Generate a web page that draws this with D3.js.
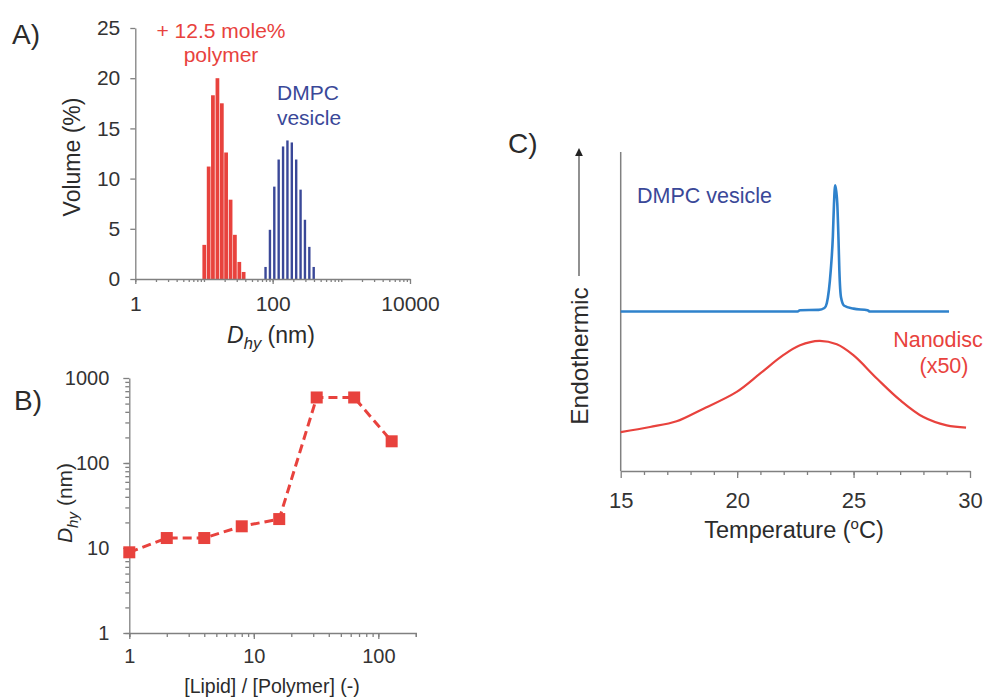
<!DOCTYPE html>
<html>
<head>
<meta charset="utf-8">
<script src="https://cdn.jsdelivr.net/npm/d3@7"></script>
<style>
  body { margin: 0; background: #fff; }
  svg { font-family: "Liberation Sans", Arial, sans-serif; }
  .axis path, .axis line { stroke: #808080; stroke-width: 1.3; }
  .axis text { fill: #333; font-family: "Liberation Sans", Arial, sans-serif; }
</style>
</head>
<body>
<div id="chart"></div>
<script>
//panel A: DLS volume distributions
var sizeRed = [10.1, 11.7, 13.5, 15.7, 18.2, 21.0, 24.4, 28.2, 32.7, 37.8];
var volRed = [3.4, 11.2, 18.3, 20.0, 17.5, 12.6, 7.9, 4.4, 1.7, 0.7];
var sizeBlue = [78.8, 91.3, 105.7, 122.4, 141.8, 164.2, 190.1, 220.2, 255.0, 295.3, 342.0, 396.1];
var volBlue = [1.2, 4.9, 9.2, 11.9, 13.2, 13.8, 13.6, 11.9, 8.9, 5.9, 3.2, 1.2];
var ticksA_y = [0, 5, 10, 15, 20, 25];
var ticksA_x = [1, 100, 10000];

//panel B: Dhy vs lipid/polymer ratio
var ratioLP = [1, 2, 4, 8, 16, 32, 64, 128];
var dhyB = [8.9, 13.1, 13.1, 18.0, 21.9, 590, 590, 180];
var ticksB_y = [1, 10, 100, 1000];
var ticksB_x = [1, 10, 100];

//panel C: DSC thermograms
var tempVesicle = [15, 22.6, 22.7, 23.5, 23.75, 23.85, 24.02, 24.11, 24.16, 24.21, 24.26, 24.30, 24.35, 24.39, 24.46, 24.6, 25.0, 25.6, 25.7, 29.1];
var heatVesicle = [50, 50, 50.4, 50.5, 51.1, 52.6, 62.9, 73.4, 83.9, 89.6, 87.5, 83.9, 73.4, 62.9, 54.5, 51.8, 50.9, 50.4, 50, 50];
var tempNano = [15, 16.26, 17.4, 18.4, 19.98, 20.98, 21.98, 22.7, 23.53, 24.28, 24.99, 26.0, 27.0, 28.0, 29.0, 29.83];
var heatNano = [12.2, 13.8, 15.6, 19.0, 24.8, 30.5, 36.3, 39.4, 40.8, 39.7, 36.3, 29.0, 22.2, 16.9, 14.3, 13.6];
var ticksC_x = [15, 20, 25, 30];

var red = "#e8423d";
var navy = "#3a4898";
var skyblue = "#2f82cc";
var txt = "#2b2b2b";

var svg = d3.select("#chart").append("svg")
            .attr("width", 986)
            .attr("height", 700);

svg.append("rect").attr("width", 986).attr("height", 700).attr("fill", "#fff");

//minor log ticks between decades
function logMinor(lo, hi) {
  var out = [];
  for (var d = lo; d < hi; d *= 10) {
    for (var k = 1; k < 10; k++) {
      if (d * k <= hi) out.push(d * k);
    }
  }
  return out;
}

function panelLetter(x, y, s) {
  svg.append("text")
     .attr("x", x).attr("y", y)
     .attr("font-size", 28)
     .attr("fill", txt)
     .text(s);
}

function dhyLabel(g, size) {
  g.append("tspan").attr("font-style", "italic").text("D");
  g.append("tspan").attr("font-style", "italic").attr("font-size", size * 0.72).attr("dy", size * 0.28).text("hy");
  g.append("tspan").attr("dy", -size * 0.28).text(" (nm)");
}

/* ---------------- A ---------------- */
function drawA() {
  var x = d3.scaleLog().domain([1, 10000]).range([135.3, 410]);
  var y = d3.scaleLinear().domain([0, 25]).range([279, 28]);
  var g = svg.append("g");

  //bars, width from the log bin width
  var ratio = 1.157;
  function bars(sizes, vals, color, frac) {
    g.selectAll(null)
     .data(sizes.map(function(d, i) { return {d: d, v: vals[i]}; }))
     .enter().append("rect")
     .attr("x", function(d) {
        var w = x(d.d * Math.sqrt(ratio)) - x(d.d / Math.sqrt(ratio));
        return x(d.d) - w * frac / 2;
     })
     .attr("width", function(d) {
        return (x(d.d * Math.sqrt(ratio)) - x(d.d / Math.sqrt(ratio))) * frac;
     })
     .attr("y", function(d) { return y(d.v); })
     .attr("height", function(d) { return y(0) - y(d.v); })
     .attr("fill", color);
  }
  bars(sizeRed, volRed, red, 0.86);
  bars(sizeBlue, volBlue, navy, 0.55);

  g.append("g").attr("class", "axis")
   .attr("transform", "translate(0,279)")
   .call(d3.axisBottom(x).tickValues(logMinor(1, 10000)).tickSize(3).tickFormat(""))
   .call(function(a) { a.select(".domain").remove(); });
  g.append("g").attr("class", "axis")
   .attr("transform", "translate(0,279)")
   .call(d3.axisBottom(x).tickValues(ticksA_x).tickSize(5).tickSizeOuter(0).tickPadding(12).tickFormat(d3.format("d")))
   .selectAll("text").attr("font-size", 21);

  g.append("g").attr("class", "axis")
   .attr("transform", "translate(135.3,0)")
   .call(d3.axisLeft(y).tickValues(ticksA_y).tickSize(5).tickSizeOuter(0).tickPadding(10))
   .selectAll("text").attr("font-size", 21);

  svg.append("text")
     .attr("transform", "translate(80,157) rotate(-90)")
     .attr("text-anchor", "middle")
     .attr("font-size", 23)
     .attr("fill", txt)
     .text("Volume (%)");

  var xl = svg.append("text")
     .attr("x", 271).attr("y", 343)
     .attr("text-anchor", "middle")
     .attr("font-size", 23)
     .attr("fill", txt);
  dhyLabel(xl, 23);

  svg.append("text").attr("x", 221).attr("y", 38).attr("text-anchor", "middle")
     .attr("font-size", 21).attr("fill", red).text("+ 12.5 mole%");
  svg.append("text").attr("x", 221).attr("y", 62).attr("text-anchor", "middle")
     .attr("font-size", 21).attr("fill", red).text("polymer");
  svg.append("text").attr("x", 308).attr("y", 100).attr("text-anchor", "middle")
     .attr("font-size", 21).attr("fill", navy).text("DMPC");
  svg.append("text").attr("x", 309).attr("y", 125).attr("text-anchor", "middle")
     .attr("font-size", 21).attr("fill", navy).text("vesicle");

  panelLetter(12, 44, "A)");
}

/* ---------------- B ---------------- */
function drawB() {
  var x = d3.scaleLog().domain([1, 200]).range([129.3, 415.8]);
  var y = d3.scaleLog().domain([1, 1000]).range([633, 378]);
  var g = svg.append("g");

  g.append("g").attr("class", "axis")
   .attr("transform", "translate(0,633)")
   .call(d3.axisBottom(x).tickValues(logMinor(1, 200)).tickSize(4).tickFormat(""))
   .call(function(a) { a.select(".domain").remove(); });
  g.append("g").attr("class", "axis")
   .attr("transform", "translate(0,633)")
   .call(d3.axisBottom(x).tickValues(ticksB_x).tickSize(6).tickSizeOuter(4).tickPadding(10).tickFormat(d3.format("d")))
   .selectAll("text").attr("font-size", 20);

  g.append("g").attr("class", "axis")
   .attr("transform", "translate(129.3,0)")
   .call(d3.axisLeft(y).tickValues(logMinor(1, 1000)).tickSize(4).tickFormat(""))
   .call(function(a) { a.select(".domain").remove(); });
  g.append("g").attr("class", "axis")
   .attr("transform", "translate(129.3,0)")
   .call(d3.axisLeft(y).tickValues(ticksB_y).tickSize(6).tickSizeOuter(0).tickPadding(14).tickFormat(d3.format("d")))
   .selectAll("text").attr("font-size", 20);

  var pts = ratioLP.map(function(r, i) { return [r, dhyB[i]]; });
  g.append("path")
   .datum(pts)
   .attr("fill", "none")
   .attr("stroke", red)
   .attr("stroke-width", 3)
   .attr("stroke-dasharray", "9,5")
   .attr("d", d3.line().x(function(d) { return x(d[0]); }).y(function(d) { return y(d[1]); }));

  g.selectAll(null)
   .data(pts)
   .enter().append("rect")
   .attr("x", function(d) { return x(d[0]) - 6; })
   .attr("y", function(d) { return y(d[1]) - 6; })
   .attr("width", 12).attr("height", 12)
   .attr("fill", red);

  var yl = svg.append("text")
     .attr("transform", "translate(72,503) rotate(-90)")
     .attr("text-anchor", "middle")
     .attr("font-size", 21)
     .attr("fill", txt);
  dhyLabel(yl, 21);

  svg.append("text")
     .attr("x", 272).attr("y", 693)
     .attr("text-anchor", "middle")
     .attr("font-size", 19.5)
     .attr("fill", txt)
     .text("[Lipid] / [Polymer] (-)");

  panelLetter(14, 410, "B)");
}

/* ---------------- C ---------------- */
function drawC() {
  var x = d3.scaleLinear().domain([15, 30]).range([620.7, 970]);
  var y = d3.scaleLinear().domain([0, 100]).range([471, 152]);
  var g = svg.append("g");

  g.append("g").attr("class", "axis")
   .attr("transform", "translate(0,471)")
   .call(d3.axisBottom(x).tickValues(d3.range(16, 30)).tickSize(4).tickFormat(""))
   .call(function(a) { a.select(".domain").remove(); });
  g.append("g").attr("class", "axis")
   .attr("transform", "translate(0,471)")
   .call(d3.axisBottom(x).tickValues(ticksC_x).tickSize(7).tickSizeOuter(0).tickPadding(14))
   .selectAll("text").attr("font-size", 22);

  g.append("line")
   .attr("x1", x(15)).attr("x2", x(15))
   .attr("y1", y(100)).attr("y2", y(0))
   .attr("stroke", "#808080").attr("stroke-width", 1.5);

  // smooth broad peak, sharp transition peak
  var nanoLine = d3.line()
               .x(function(d) { return x(d[0]); })
               .y(function(d) { return y(d[1]); })
               .curve(d3.curveCatmullRom);
  var vesLine = d3.line()
               .x(function(d) { return x(d[0]); })
               .y(function(d) { return y(d[1]); })
               .curve(d3.curveMonotoneX);

  g.append("path")
   .datum(tempNano.map(function(t, i) { return [t, heatNano[i]]; }))
   .attr("fill", "none").attr("stroke", red).attr("stroke-width", 2.2)
   .attr("d", nanoLine);

  g.append("path")
   .datum(tempVesicle.map(function(t, i) { return [t, heatVesicle[i]]; }))
   .attr("fill", "none").attr("stroke", skyblue).attr("stroke-width", 2.6)
   .attr("d", vesLine);

  //endothermic arrow
  svg.append("defs").append("marker")
     .attr("id", "arr").attr("viewBox", "0 0 10 10")
     .attr("refX", 5).attr("refY", 5)
     .attr("markerWidth", 6).attr("markerHeight", 6)
     .attr("orient", "auto")
     .append("path").attr("d", "M0,0 L10,5 L0,10 z").attr("fill", "#222");
  svg.append("line")
     .attr("x1", 579).attr("x2", 579)
     .attr("y1", 276).attr("y2", 152)
     .attr("stroke", "#555").attr("stroke-width", 1.3)
     .attr("marker-end", "url(#arr)");
  svg.append("text")
     .attr("transform", "translate(588,356) rotate(-90)")
     .attr("text-anchor", "middle")
     .attr("font-size", 24.5)
     .attr("fill", txt)
     .text("Endothermic");

  var xl = svg.append("text")
     .attr("x", 794).attr("y", 538)
     .attr("text-anchor", "middle")
     .attr("font-size", 23.5)
     .attr("fill", txt);
  xl.append("tspan").text("Temperature (");
  xl.append("tspan").attr("font-size", 15).attr("dy", -9).text("o");
  xl.append("tspan").attr("dy", 9).text("C)");

  svg.append("text").attr("x", 637).attr("y", 203)
     .attr("font-size", 21.5).attr("fill", navy).text("DMPC vesicle");
  svg.append("text").attr("x", 938).attr("y", 347).attr("text-anchor", "middle")
     .attr("font-size", 21.5).attr("fill", red).text("Nanodisc");
  svg.append("text").attr("x", 944).attr("y", 373).attr("text-anchor", "middle")
     .attr("font-size", 21.5).attr("fill", red).text("(x50)");

  panelLetter(508, 153, "C)");
}

drawA();
drawB();
drawC();
</script>
</body>
</html>
